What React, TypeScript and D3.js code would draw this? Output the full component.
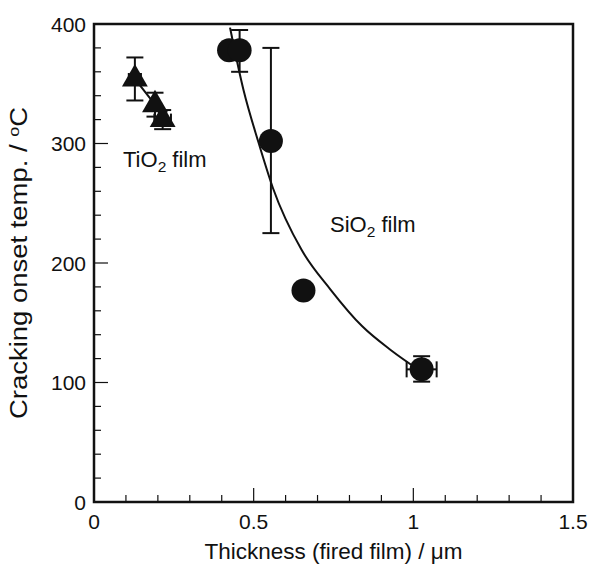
import React from 'react';
import * as d3 from 'd3';

// ---- data ----
const tioX = [0.128, 0.191, 0.215];
const tioY = [354, 332.5, 320];
const tioYErr = [18, 10, 8];
const tioXErr = [0.019, 0.0, 0.026];

const sioX = [0.423, 0.456, 0.554, 0.656, 1.026];
const sioY = [378, 378, 302, 177, 111];
const sioYLo: (number | null)[] = [null, 360, 225, null, 100.7];
const sioYHi: (number | null)[] = [null, 395, 380, null, 122];
const sioXLo: (number | null)[] = [null, null, null, null, 0.979];
const sioXHi: (number | null)[] = [null, null, null, null, 1.073];

const fitX = [0.426, 0.468, 0.515, 0.56, 0.65, 0.74, 0.84, 0.93, 1.02];
const fitY = [397, 345, 301, 263, 211, 178, 147, 127, 110];

const xMajor = [0, 0.5, 1, 1.5];
const xMajorLabels = ['0', '0.5', '1', '1.5'];
const yMajor = [0, 100, 200, 300, 400];
const yMajorLabels = ['0', '100', '200', '300', '400'];

const W = 590;
const H = 566;
const M = { left: 94, right: 17, top: 24, bottom: 64 };
const FONT = '"Liberation Sans", Arial, Helvetica, sans-serif';
const INK = '#111';

export default function App() {
  const x = d3.scaleLinear().domain([0, 1.5]).range([M.left, W - M.right]);
  const y = d3.scaleLinear().domain([0, 400]).range([H - M.bottom, M.top]);
  const x0 = x(0), x1 = x(1.5), y0 = y(0), y1 = y(400);

  const xMinor = d3.range(1, 15).map((i) => i / 10).filter((v) => Math.abs(v - 0.5) > 1e-6 && Math.abs(v - 1) > 1e-6);
  const yMinor = d3.range(1, 20).map((i) => i * 20).filter((v) => v % 100 !== 0);

  const fitLine = d3
    .line<number>()
    .x((_, i) => x(fitX[i]))
    .y((_, i) => y(fitY[i]))
    .curve(d3.curveMonotoneX);
  const tioLine = d3
    .line<number>()
    .x((_, i) => x(tioX[i]))
    .y((_, i) => y(tioY[i]));

  const tri = d3.symbol().type(d3.symbolTriangle).size(290)();
  const cap = 8.5;

  return (
    <svg width={W} height={H} style={{ position: 'absolute', left: 0, top: 0, background: '#fff' }} fontFamily={FONT}>
      <rect x={0} y={0} width={W} height={H} fill="#fff" />
      {/* ticks */}
      <g stroke={INK} strokeWidth={1.2}>
        {xMinor.map((v) => (
          <line key={'xm' + v} x1={x(v)} x2={x(v)} y1={y0} y2={y0 - 7} />
        ))}
        {[0.5, 1].map((v) => (
          <line key={'xM' + v} x1={x(v)} x2={x(v)} y1={y0} y2={y0 - 14} />
        ))}
        {yMinor.map((v) => (
          <line key={'ym' + v} x1={x0} x2={x0 + 7} y1={y(v)} y2={y(v)} />
        ))}
        {[100, 200, 300].map((v) => (
          <line key={'yM' + v} x1={x0} x2={x0 + 14} y1={y(v)} y2={y(v)} />
        ))}
      </g>
      {/* frame */}
      <rect x={x0} y={y1} width={x1 - x0} height={y0 - y1} fill="none" stroke={INK} strokeWidth={2.5} />

      {/* tick labels */}
      <g fontSize={21} fill={INK}>
        {xMajor.map((v, i) => (
          <text key={'xl' + v} x={x(v)} y={y0 + 27} textAnchor="middle">
            {xMajorLabels[i]}
          </text>
        ))}
        {yMajor.map((v, i) => (
          <text key={'yl' + v} x={x0 - 8} y={y(v) + 7.5} textAnchor="end">
            {yMajorLabels[i]}
          </text>
        ))}
      </g>

      {/* axis titles */}
      <text
        x={(x0 + x1) / 2}
        y={559}
        textAnchor="middle"
        fontSize={21.5}
        fill={INK}
        textLength={258}
        lengthAdjust="spacingAndGlyphs"
      >
        Thickness (fired film) / μm
      </text>
      <text
        transform={`translate(27,${(y0 + y1) / 2}) rotate(-90)`}
        textAnchor="middle"
        fontSize={23}
        fill={INK}
        textLength={312}
        lengthAdjust="spacingAndGlyphs"
      >
        Cracking onset temp. /{' '}
        <tspan fontSize={15} dy={-8}>o</tspan>
        <tspan dy={8}>C</tspan>
      </text>

      {/* TiO2 series */}
      <path d={tioLine(tioX) || ''} fill="none" stroke={INK} strokeWidth={2} />
      <g stroke={INK} strokeWidth={2}>
        {tioX.map((v, i) => (
          <g key={'te' + i}>
            <line x1={x(v)} x2={x(v)} y1={y(tioY[i] - tioYErr[i])} y2={y(tioY[i] + tioYErr[i])} />
            <line x1={x(v) - cap} x2={x(v) + cap} y1={y(tioY[i] - tioYErr[i])} y2={y(tioY[i] - tioYErr[i])} />
            <line x1={x(v) - cap} x2={x(v) + cap} y1={y(tioY[i] + tioYErr[i])} y2={y(tioY[i] + tioYErr[i])} />
            {tioXErr[i] > 0 && (
              <g>
                <line x1={x(v - tioXErr[i])} x2={x(v + tioXErr[i])} y1={y(tioY[i])} y2={y(tioY[i])} />
                <line x1={x(v - tioXErr[i])} x2={x(v - tioXErr[i])} y1={y(tioY[i]) - 6} y2={y(tioY[i]) + 6} />
                <line x1={x(v + tioXErr[i])} x2={x(v + tioXErr[i])} y1={y(tioY[i]) - 6} y2={y(tioY[i]) + 6} />
              </g>
            )}
          </g>
        ))}
      </g>
      {tioX.map((v, i) => (
        <path key={'tm' + i} d={tri || ''} transform={`translate(${x(v)},${y(tioY[i])})`} fill={INK} />
      ))}

      {/* SiO2 series */}
      <path d={fitLine(fitX) || ''} fill="none" stroke={INK} strokeWidth={2} />
      <g stroke={INK} strokeWidth={2}>
        {sioX.map((v, i) => {
          const lo = sioYLo[i], hi = sioYHi[i], xl = sioXLo[i], xh = sioXHi[i];
          return (
            <g key={'se' + i}>
              {lo !== null && hi !== null && (
                <g>
                  <line x1={x(v)} x2={x(v)} y1={y(lo)} y2={y(hi)} />
                  <line x1={x(v) - cap} x2={x(v) + cap} y1={y(lo)} y2={y(lo)} />
                  <line x1={x(v) - cap} x2={x(v) + cap} y1={y(hi)} y2={y(hi)} />
                </g>
              )}
              {xl !== null && xh !== null && (
                <g>
                  <line x1={x(xl)} x2={x(xh)} y1={y(sioY[i])} y2={y(sioY[i])} />
                  <line x1={x(xl)} x2={x(xl)} y1={y(sioY[i]) - 8} y2={y(sioY[i]) + 8} />
                  <line x1={x(xh)} x2={x(xh)} y1={y(sioY[i]) - 8} y2={y(sioY[i]) + 8} />
                </g>
              )}
            </g>
          );
        })}
      </g>
      {sioX.map((v, i) => (
        <circle key={'sm' + i} cx={x(v)} cy={y(sioY[i])} r={12} fill={INK} />
      ))}

      {/* annotations */}
      <text x={123} y={167} fontSize={22} fill={INK}>
        TiO<tspan fontSize={15.5} dy={5}>2</tspan>
        <tspan dy={-5}> film</tspan>
      </text>
      <text x={330} y={232} fontSize={22} fill={INK}>
        SiO<tspan fontSize={15.5} dy={5}>2</tspan>
        <tspan dy={-5}> film</tspan>
      </text>
    </svg>
  );
}
